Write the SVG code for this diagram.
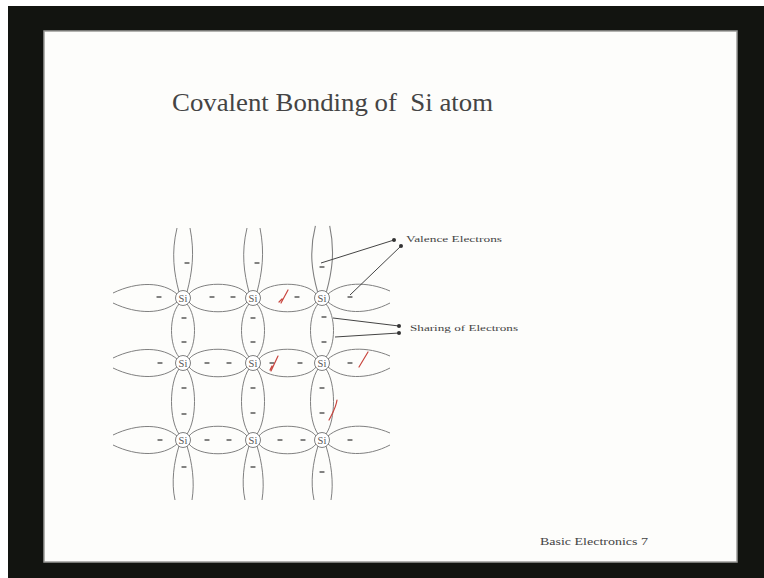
<svg xmlns="http://www.w3.org/2000/svg" xmlns:xlink="http://www.w3.org/1999/xlink" width="764" height="578" viewBox="0 0 764 578">
  <style>
    .bond { fill: none; stroke: #808080; stroke-width: 1; }
    .atom circle { fill: #ffffff; stroke: #808080; stroke-width: 1; }
    .atom text { font-family: "Liberation Serif", "Times New Roman", serif; font-size: 10.5px; fill: #555; text-anchor: middle; }
    .e { stroke: #5a5a5a; stroke-width: 1.3; stroke-linecap: round; }
    .pen { fill: none; stroke: #c8453e; stroke-width: 1.2; stroke-linecap: round; stroke-linejoin: round; }
    .callout { stroke: #444; stroke-width: 1; fill: none; }
    .label { font-family: "Liberation Serif", "Times New Roman", serif; fill: #444; }
  </style>
  <defs>
    <!-- bond between two neighbouring atoms in a row (left atom at origin) -->
    <g id="hLens">
      <path class="bond" d="M6,-4 C16,-17 54,-17 64,-4"/>
      <path class="bond" d="M6,4 C16,17 54,17 64,4"/>
    </g>
    <!-- open bond leaving an atom to the left -->
    <g id="hOutL">
      <path class="bond" d="M-6,-4 C-20,-16 -45,-17 -70,-5"/>
      <path class="bond" d="M-6,4 C-20,16 -45,17 -70,5"/>
    </g>
    <!-- open bond leaving an atom to the right -->
    <g id="hOutR">
      <path class="bond" d="M6,-4 C20,-16 45,-17 68,-7"/>
      <path class="bond" d="M6,4 C20,16 45,17 68,5"/>
    </g>
    <!-- open bond leaving an atom upwards -->
    <g id="vOutT">
      <path class="bond" d="M-4,-6 C-9,-25 -12,-45 -6,-70"/>
      <path class="bond" d="M4,-6 C9,-25 12,-45 7,-70"/>
    </g>
    <!-- open bond leaving an atom downwards -->
    <g id="vOutB">
      <path class="bond" d="M-4,6 C-9,22 -12,42 -8,60"/>
      <path class="bond" d="M4,6 C9,22 12,42 9,60"/>
    </g>
    <!-- bond between rows 1 and 2 -->
    <g id="vLens65">
      <path class="bond" d="M-4,6 C-14,18 -14,47 -4,59"/>
      <path class="bond" d="M4,6 C14,18 14,47 4,59"/>
    </g>
    <!-- bond between rows 2 and 3 -->
    <g id="vLens77">
      <path class="bond" d="M-4,6 C-14,20 -14,57 -4,71"/>
      <path class="bond" d="M4,6 C14,20 14,57 4,71"/>
    </g>
  </defs>

  <!-- screen frame -->
  <rect x="0" y="0" width="764" height="578" fill="#ffffff"/>
  <rect x="8" y="6" width="756" height="572" fill="#121410"/>
  <rect x="44" y="31" width="693" height="531" fill="#fdfdfb" stroke="#9a9a98" stroke-width="1.5"/>

  <!-- title -->
  <text class="label" x="172" y="111" font-size="25" fill="#2a2a2a" textLength="321" lengthAdjust="spacingAndGlyphs" xml:space="preserve">Covalent Bonding of  Si atom</text>

  <!-- bonds -->
  <g id="bonds">
    <!-- row 1 -->
    <use xlink:href="#hOutL" transform="translate(183,298)"/>
    <use xlink:href="#hLens" transform="translate(183,298)"/>
    <use xlink:href="#hLens" transform="translate(253,298) scale(0.986,1)"/>
    <use xlink:href="#hOutR" transform="translate(322,298)"/>
    <!-- row 2 -->
    <use xlink:href="#hOutL" transform="translate(183,363)"/>
    <use xlink:href="#hLens" transform="translate(183,363)"/>
    <use xlink:href="#hLens" transform="translate(253,363) scale(0.986,1)"/>
    <use xlink:href="#hOutR" transform="translate(322,363)"/>
    <!-- row 3 -->
    <use xlink:href="#hOutL" transform="translate(183,440)"/>
    <use xlink:href="#hLens" transform="translate(183,440)"/>
    <use xlink:href="#hLens" transform="translate(253,440) scale(0.986,1)"/>
    <use xlink:href="#hOutR" transform="translate(322,440)"/>
    <!-- columns -->
    <use xlink:href="#vOutT" transform="translate(183,298)"/>
    <use xlink:href="#vOutT" transform="translate(253,298)"/>
    <use xlink:href="#vOutT" transform="translate(322,298) scale(1.1,1.03)"/>
    <use xlink:href="#vLens65" transform="translate(183,298)"/>
    <use xlink:href="#vLens65" transform="translate(253,298)"/>
    <use xlink:href="#vLens65" transform="translate(322,298)"/>
    <use xlink:href="#vLens77" transform="translate(183,363)"/>
    <use xlink:href="#vLens77" transform="translate(253,363)"/>
    <use xlink:href="#vLens77" transform="translate(322,363)"/>
    <use xlink:href="#vOutB" transform="translate(183,440)"/>
    <use xlink:href="#vOutB" transform="translate(253,440)"/>
    <use xlink:href="#vOutB" transform="translate(322,440)"/>
  </g>

  <!-- atoms -->
  <g id="atom-r1c1" class="atom"><circle cx="183" cy="298" r="7.5"/><text x="183" y="301.5">Si</text></g>
  <g id="atom-r1c2" class="atom"><circle cx="253" cy="298" r="7.5"/><text x="253" y="301.5">Si</text></g>
  <g id="atom-r1c3" class="atom"><circle cx="322" cy="298" r="7.5"/><text x="322" y="301.5">Si</text></g>
  <g id="atom-r2c1" class="atom"><circle cx="183" cy="363" r="7.5"/><text x="183" y="366.5">Si</text></g>
  <g id="atom-r2c2" class="atom"><circle cx="253" cy="363" r="7.5"/><text x="253" y="366.5">Si</text></g>
  <g id="atom-r2c3" class="atom"><circle cx="322" cy="363" r="7.5"/><text x="322" y="366.5">Si</text></g>
  <g id="atom-r3c1" class="atom"><circle cx="183" cy="440" r="7.5"/><text x="183" y="443.5">Si</text></g>
  <g id="atom-r3c2" class="atom"><circle cx="253" cy="440" r="7.5"/><text x="253" y="443.5">Si</text></g>
  <g id="atom-r3c3" class="atom"><circle cx="322" cy="440" r="7.5"/><text x="322" y="443.5">Si</text></g>

  <!-- valence electrons -->
  <g id="electrons">
    <!-- row 1 -->
    <line class="e" x1="157" y1="297" x2="161" y2="297"/>
    <line class="e" x1="210" y1="297" x2="214" y2="297"/>
    <line class="e" x1="231" y1="297" x2="235" y2="297"/>
    <line class="e" x1="295" y1="297" x2="299" y2="297"/>
    <line class="e" x1="348" y1="297" x2="352" y2="297"/>
    <!-- row 2 -->
    <line class="e" x1="158" y1="363" x2="162" y2="363"/>
    <line class="e" x1="205" y1="363" x2="209" y2="363"/>
    <line class="e" x1="227" y1="363" x2="231" y2="363"/>
    <line class="e" x1="270" y1="363" x2="274" y2="363"/>
    <line class="e" x1="298" y1="363" x2="302" y2="363"/>
    <line class="e" x1="348" y1="363" x2="352" y2="363"/>
    <!-- row 3 -->
    <line class="e" x1="158" y1="440" x2="162" y2="440"/>
    <line class="e" x1="205" y1="440" x2="209" y2="440"/>
    <line class="e" x1="227" y1="440" x2="231" y2="440"/>
    <line class="e" x1="278" y1="440" x2="282" y2="440"/>
    <line class="e" x1="301" y1="440" x2="305" y2="440"/>
    <line class="e" x1="348" y1="440" x2="352" y2="440"/>
    <!-- upper open bonds -->
    <line class="e" x1="185" y1="263" x2="189" y2="263"/>
    <line class="e" x1="255" y1="263" x2="259" y2="263"/>
    <line class="e" x1="320" y1="267" x2="324" y2="267"/>
    <!-- between rows 1 and 2 -->
    <line class="e" x1="182" y1="318" x2="186" y2="318"/>
    <line class="e" x1="182" y1="342" x2="186" y2="342"/>
    <line class="e" x1="251" y1="318" x2="255" y2="318"/>
    <line class="e" x1="251" y1="342" x2="255" y2="342"/>
    <line class="e" x1="322" y1="317" x2="326" y2="317"/>
    <line class="e" x1="322" y1="342" x2="326" y2="342"/>
    <!-- between rows 2 and 3 -->
    <line class="e" x1="182" y1="388" x2="186" y2="388"/>
    <line class="e" x1="182" y1="414" x2="186" y2="414"/>
    <line class="e" x1="251" y1="388" x2="255" y2="388"/>
    <line class="e" x1="251" y1="413" x2="255" y2="413"/>
    <line class="e" x1="320" y1="388" x2="324" y2="388"/>
    <line class="e" x1="320" y1="413" x2="324" y2="413"/>
    <!-- lower open bonds -->
    <line class="e" x1="182" y1="467" x2="186" y2="467"/>
    <line class="e" x1="251" y1="467" x2="255" y2="467"/>
    <line class="e" x1="320" y1="472" x2="324" y2="472"/>
  </g>

  <!-- red pen ticks -->
  <g id="pen-marks">
    <path class="pen" d="M279,302 L282,299 M281,303 L288,290"/>
    <path class="pen" d="M270,370 L272,366 M271,371 L278,356"/>
    <path class="pen" d="M359,367 L368,352"/>
    <path class="pen" d="M329,420 C332,414 336,408 337,400"/>
  </g>

  <!-- callouts -->
  <g id="callouts">
    <line class="callout" x1="394" y1="240" x2="321" y2="263"/>
    <line class="callout" x1="401" y1="246" x2="350" y2="295"/>
    <circle cx="394" cy="240" r="2" fill="#333"/>
    <circle cx="401" cy="246" r="2" fill="#333"/>
    <line class="callout" x1="399" y1="326" x2="333" y2="318"/>
    <line class="callout" x1="399" y1="333" x2="335" y2="337"/>
    <circle cx="399" cy="326" r="2" fill="#333"/>
    <circle cx="399" cy="333" r="2" fill="#333"/>
    <text class="label" x="406" y="242" font-size="9" textLength="96" lengthAdjust="spacingAndGlyphs">Valence Electrons</text>
    <text class="label" x="410" y="331" font-size="9" textLength="108" lengthAdjust="spacingAndGlyphs">Sharing of Electrons</text>
  </g>

  <!-- footer -->
  <text class="label" x="540" y="545" font-size="10" fill="#333" textLength="108" lengthAdjust="spacingAndGlyphs">Basic Electronics 7</text>
</svg>
